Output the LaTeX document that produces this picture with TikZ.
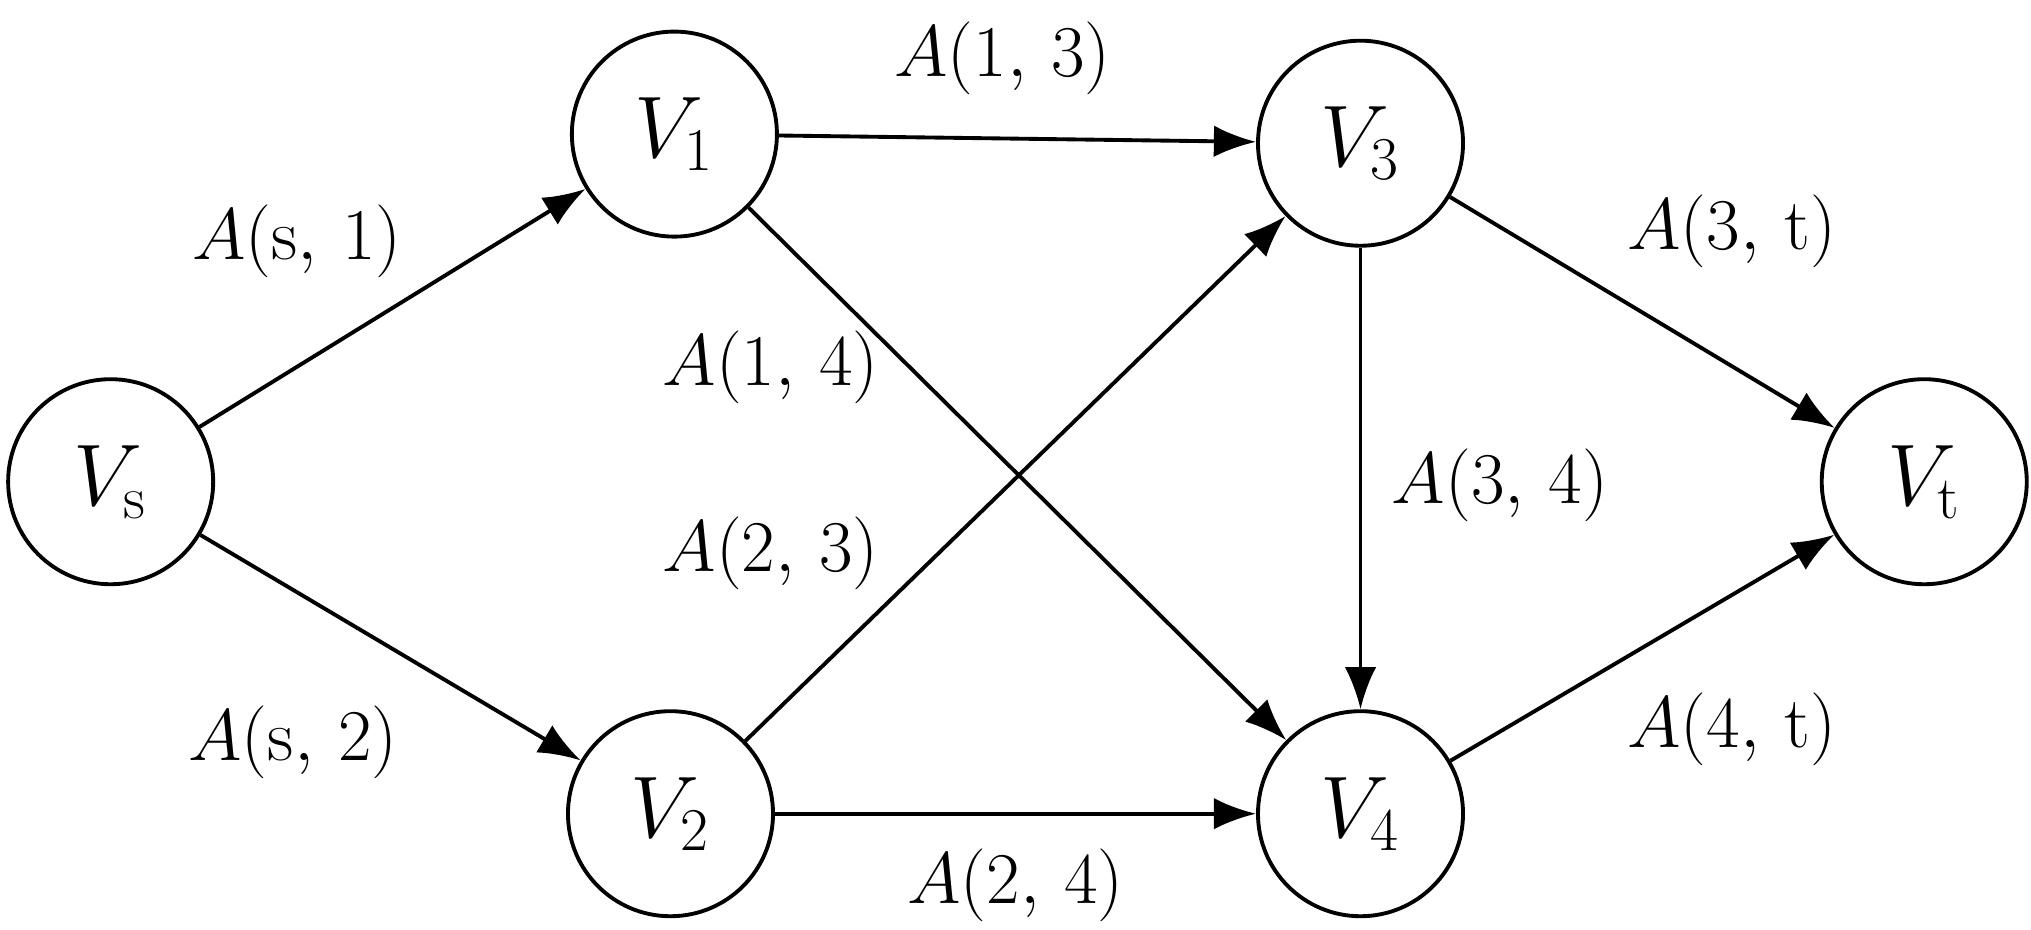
\documentclass[tikz,border=0pt]{standalone}
\usetikzlibrary{arrows.meta}
\begin{document}
\begin{tikzpicture}[x=0.01302cm,y=-0.01302cm,
  nd/.style={circle,draw,line width=1.1pt,minimum size=2.05cm,inner sep=0pt,font=\fontsize{26}{30}\selectfont},
  ed/.style={line width=1.1pt,-{Latex[length=12pt,width=9pt]}},
  lb/.style={font=\fontsize{21}{25}\selectfont}]
\useasboundingbox (0,0) rectangle (1560,714);
\node[nd] (s) at (85,370) {$V_{\mathrm{s}}$};
\node[nd] (1) at (518,103) {$V_{1}$};
\node[nd] (2) at (515,625) {$V_{2}$};
\node[nd] (3) at (1045,110) {$V_{3}$};
\node[nd] (4) at (1045,625) {$V_{4}$};
\node[nd] (t) at (1478,370) {$V_{\mathrm{t}}$};
\draw[ed] (s) -- (1);
\draw[ed] (s) -- (2);
\draw[ed] (1) -- (3);
\draw[ed] (1) -- (4);
\draw[ed] (2) -- (3);
\draw[ed] (2) -- (4);
\draw[ed] (3) -- (4);
\draw[ed] (3) -- (t);
\draw[ed] (4) -- (t);
\node[lb] (l1) at (228,185) {$A(\mathrm{s},\,1)$};
\node[lb] (l2) at (225,570) {$A(\mathrm{s},\,2)$};
\node[lb] (l3) at (770,45) {$A(1,\,3)$};
\node[lb] (l4) at (592,282) {$A(1,\,4)$};
\node[lb] (l5) at (592,425) {$A(2,\,3)$};
\node[lb] (l6) at (780,680) {$A(2,\,4)$};
\node[lb] (l7) at (1152,373) {$A(3,\,4)$};
\node[lb] (l8) at (1330,178) {$A(3,\,\mathrm{t})$};
\node[lb] (l9) at (1330,560) {$A(4,\,\mathrm{t})$};
\end{tikzpicture}
\end{document}
